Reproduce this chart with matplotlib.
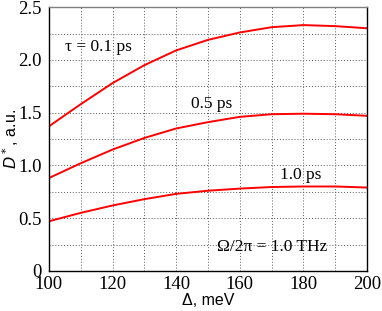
import matplotlib
matplotlib.use("Agg")
import matplotlib.pyplot as plt
from matplotlib.ticker import MultipleLocator

# detuning, meV
delta = [100, 110, 120, 130, 140, 150, 160, 170, 180, 190, 200]
d_tau01 = [1.37, 1.58, 1.78, 1.95, 2.09, 2.19, 2.26, 2.31, 2.33, 2.32, 2.30]
d_tau05 = [0.88, 1.02, 1.15, 1.26, 1.35, 1.41, 1.46, 1.485, 1.49, 1.485, 1.47]
d_tau10 = [0.47, 0.55, 0.62, 0.68, 0.73, 0.76, 0.78, 0.795, 0.80, 0.80, 0.79]

serif = "Liberation Serif"
sans = "Liberation Sans"

fig = plt.figure(figsize=(3.82, 3.11), dpi=100)
ax = fig.add_axes([0.128, 0.129, 0.833, 0.848])

for ys in (d_tau01, d_tau05, d_tau10):
    ax.plot(delta, ys, color="red", lw=1.4)

ax.set_xlim(100, 200); ax.set_ylim(0, 2.5)
ax.xaxis.set_minor_locator(MultipleLocator(10))
ax.yaxis.set_minor_locator(MultipleLocator(0.25))
ax.grid(which="both", ls=(0, (1, 2)), color="0.35", lw=0.7)
ax.tick_params(which="both", length=0)
ax.tick_params(axis="y", pad=5)
ax.tick_params(axis="x", pad=4)
xt = list(range(100, 201, 20))
ax.set_xticks(xt)
ax.set_xticklabels([str(v) for v in xt], fontfamily=serif, fontsize=13.5)
yt = [0, 0.5, 1.0, 1.5, 2.0, 2.5]
ax.set_yticks(yt)
ax.set_yticklabels(["0"] + [f"{v:.1f}" for v in yt[1:]], fontfamily=serif, fontsize=13.5)

ax.set_xlabel("Δ, meV", fontfamily=sans, fontsize=11.5, labelpad=0)
ax.set_ylabel("$D^*$, a.u.", fontfamily=sans, fontsize=11.5)
ax.yaxis.set_label_coords(-0.088, 0.5)

ax.text(115.5, 2.12, "τ = 0.1 ps", fontfamily=serif, fontsize=12.5, ha="center", va="center")
ax.text(151, 1.58, "0.5 ps", fontfamily=serif, fontsize=12.5, ha="center", va="center")
ax.text(179, 0.91, "1.0 ps", fontfamily=serif, fontsize=12.5, ha="center", va="center")
ax.text(170, 0.23, "Ω/2π = 1.0 THz", fontfamily=serif, fontsize=12.5, ha="center", va="center")

for s in ax.spines.values():
    s.set_linewidth(1.0)
ax.spines["top"].set_color("0.5")

fig.savefig("out.png", dpi=100)
